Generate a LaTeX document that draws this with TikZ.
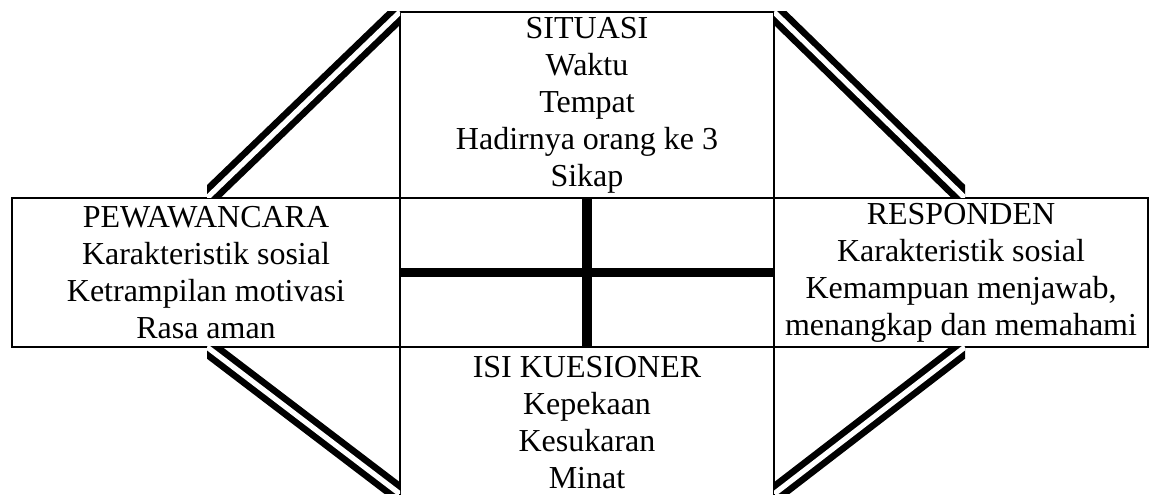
\documentclass[tikz,border=0pt]{standalone}
\usepackage{fontspec}
\setmainfont{Liberation Serif}
\usetikzlibrary{positioning}

\begin{document}
\begin{tikzpicture}[x=0.375pt,y=-0.375pt,
  fbox/.style={draw,line width=0.75pt,fill=white,align=center,inner sep=1pt,
               outer sep=0pt,minimum width=140.25pt,minimum height=55.875pt,
               font=\fontsize{12}{13.9}\selectfont},
  dline/.style={double,double distance=2pt,line width=2.5pt},
  xline/.style={line width=3.4pt}
]
\useasboundingbox (0,0) rectangle (1150,495);
\node[fbox,minimum height=69.75pt] (sit) at (587,105)
  {SITUASI\\Waktu\\Tempat\\Hadirnya orang ke 3\\Sikap};
\node[fbox,below=0pt of sit] (mid) {};
\node[fbox,left=0pt of mid,minimum width=145.5pt] (pew)
  {PEWAWANCARA\\Karakteristik sosial\\Ketrampilan motivasi\\Rasa aman};
\node[fbox,right=0pt of mid] (resp)
  {RESPONDEN\\Karakteristik sosial\\Kemampuan menjawab,\\menangkap dan memahami};
\node[fbox,below=0pt of mid,minimum height=56.625pt] (isi)
  {ISI KUESIONER\\Kepekaan\\Kesukaran\\Minat};
\draw[xline] (mid.north) -- (mid.south);
\draw[xline] (mid.west) -- (mid.east);
% double links between the corners
\coordinate (tlA) at (207,198);
\coordinate (trA) at (965,198);
\coordinate (blA) at (207,347);
\coordinate (blB) at (400,494);
\coordinate (brA) at (965,347);
\coordinate (brB) at (774,494);
\begin{scope}
  \clip (tlA) rectangle (sit.north west);
  \draw[dline] (tlA) -- (sit.north west);
\end{scope}
\begin{scope}
  \clip (sit.north east) rectangle (trA);
  \draw[dline] (sit.north east) -- (trA);
\end{scope}
\begin{scope}
  \clip (blA) rectangle (blB);
  \draw[dline] (blA) -- (blB);
\end{scope}
\begin{scope}
  \clip (brA) rectangle (brB);
  \draw[dline] (brA) -- (brB);
\end{scope}
\end{tikzpicture}
\end{document}
